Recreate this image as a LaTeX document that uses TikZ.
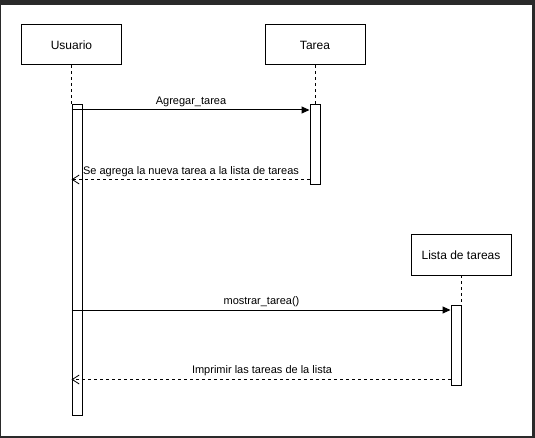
\documentclass[tikz,border=0pt]{standalone}
\usepackage{fontspec}
\setmainfont{Liberation Sans}
\usetikzlibrary{arrows.meta}
\definecolor{framecol}{HTML}{2A2A2A}
\begin{document}
\begin{tikzpicture}[x=1pt,y=-1pt,
  actor/.style={draw, line width=1pt, fill=white, minimum width=100pt, minimum height=40pt, inner sep=0pt, font=\fontsize{12}{14}\selectfont},
  actbar/.style={draw, line width=1pt, fill=white, minimum width=10pt, inner sep=0pt},
  lifeline/.style={line width=0.8pt, dash pattern=on 3pt off 3pt},
  callmsg/.style={line width=1pt, -{Triangle[length=8pt,width=7pt]}},
  retmsg/.style={line width=0.8pt, dash pattern=on 3pt off 3pt, -{Straight Barb[length=7pt,width=9pt]}},
  msglabel/.style={font=\fontsize{11}{13}\selectfont, inner sep=0pt}
]
\useasboundingbox (0,0) rectangle (535,438);
\fill[framecol] (0,0) rectangle (535,438);
\fill[white] (1,5) rectangle (532,436);

% lifeline heads
\node[actor] (usuario) at (71.5,45) {Usuario};
\node[actor] (tarea) at (315,45) {Tarea};
\node[actor] (lista) at (461,255) {Lista de tareas};

% lifelines
\draw[lifeline] (usuario.south) -- (71.5,105) coordinate (ulife);
\draw[lifeline] (tarea.south) -- (315,105) coordinate (tlife);
\draw[lifeline] (461,275) coordinate (llifetop) -- (461,305) coordinate (llife);

% activation bars
\node[actbar, minimum height=310pt] (ubar) at (77,260) {};
\node[actbar, minimum height=80pt] (tbar) at (315,145) {};
\node[actbar, minimum height=80pt] (lbar) at (456,345) {};

% messages
\draw[callmsg] (ubar.west |- 0,110) -- (tbar.west |- 0,110);
\node[msglabel] (m1) at (191,101.5) {Agregar\_tarea};

\draw[retmsg] (tbar.west |- 0,179.5) -- (ubar.west |- 0,179.5);
\node[msglabel] (m2) at (191,171.5) {Se agrega la nueva tarea a la lista de tareas};

\draw[callmsg] (ubar.west |- 0,310) -- (lbar.west |- 0,310);
\node[msglabel] (m3) at (261.5,301.5) {mostrar\_tarea()};

\draw[retmsg] (lbar.west |- 0,379.5) -- (ubar.west |- 0,379.5);
\node[msglabel] (m4) at (262,371) {Imprimir las tareas de la lista};
\end{tikzpicture}
\end{document}
